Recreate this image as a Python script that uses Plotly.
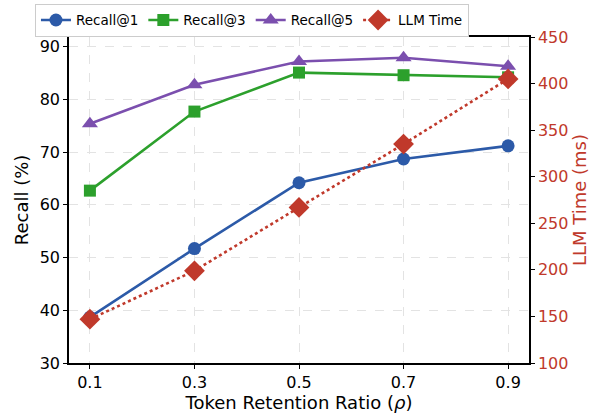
import plotly.graph_objects as go

# Token retention ratios and measured results
ratios = [0.1, 0.3, 0.5, 0.7, 0.9]
recall_at_1 = [38.7, 51.7, 64.2, 68.7, 71.2]
recall_at_3 = [62.7, 77.7, 85.1, 84.6, 84.2]
recall_at_5 = [75.4, 82.8, 87.2, 87.9, 86.3]
llm_time_ms = [147, 199, 267, 335, 405]
x_tick_labels = ["0.1", "0.3", "0.5", "0.7", "0.9"]

BLUE = "#2c5aa8"
GREEN = "#2ca02c"
PURPLE = "#7b4fae"
RED = "#c0392b"
FONT = "DejaVu Sans"

fig = go.Figure()

recall_series = [
    ("Recall@1", recall_at_1, BLUE, "circle", 13),
    ("Recall@3", recall_at_3, GREEN, "square", 12),
    ("Recall@5", recall_at_5, PURPLE, "triangle-up", 14),
]
for name, vals, color, symbol, size in recall_series:
    fig.add_trace(go.Scatter(
        x=ratios, y=vals, name=name, mode="lines+markers",
        line=dict(color=color, width=2.6),
        marker=dict(symbol=symbol, size=size, color=color),
        yaxis="y",
    ))

fig.add_trace(go.Scatter(
    x=ratios, y=llm_time_ms, name="LLM Time", mode="lines+markers",
    line=dict(color=RED, width=2.6, dash="dot"),
    marker=dict(symbol="diamond", size=16, color=RED),
    yaxis="y2",
))

grid = dict(showgrid=True, gridcolor="#e3e3e3", griddash="dash", gridwidth=1)

fig.update_layout(
    width=599, height=415,
    margin=dict(l=69, r=70, t=37, b=52, autoexpand=False),
    paper_bgcolor="white", plot_bgcolor="white",
    font=dict(family=FONT, size=16, color="black"),
    showlegend=True,
    legend=dict(
        orientation="h", x=-0.074, xanchor="left", y=1.102, yanchor="top",
        bgcolor="white", bordercolor="#cccccc", borderwidth=1,
        font=dict(size=13.5, family=FONT),
        itemwidth=30,
        tracegroupgap=0,
    ),
    xaxis=dict(
        range=[0.06, 0.94], tickvals=ratios, ticktext=x_tick_labels,
        ticks="outside", ticklen=4, tickcolor="black",
        showline=True, linecolor="black", linewidth=1.5, mirror=True,
        title=dict(text="Token Retention Ratio (<i>ρ</i>)", font=dict(size=18), standoff=4),
        zeroline=False, automargin=False, **grid,
    ),
    yaxis=dict(
        range=[30, 91.85], tickvals=[30, 40, 50, 60, 70, 80, 90],
        ticks="outside", ticklen=4, tickcolor="black",
        showline=True, linecolor="black", linewidth=1.5, mirror=True,
        title=dict(text="Recall (%)", font=dict(size=18), standoff=6),
        zeroline=False, automargin=False, **grid,
    ),
    yaxis2=dict(
        range=[100, 450], tickvals=[100, 150, 200, 250, 300, 350, 400, 450],
        overlaying="y", side="right",
        ticks="outside", ticklen=4, tickcolor="black",
        tickfont=dict(color=RED),
        showline=True, linecolor="black", linewidth=1.5,
        title=dict(text="LLM Time (ms)", font=dict(size=18, color=RED), standoff=6),
        showgrid=False, zeroline=False, automargin=False,
    ),
)

fig.write_html("out.html")
